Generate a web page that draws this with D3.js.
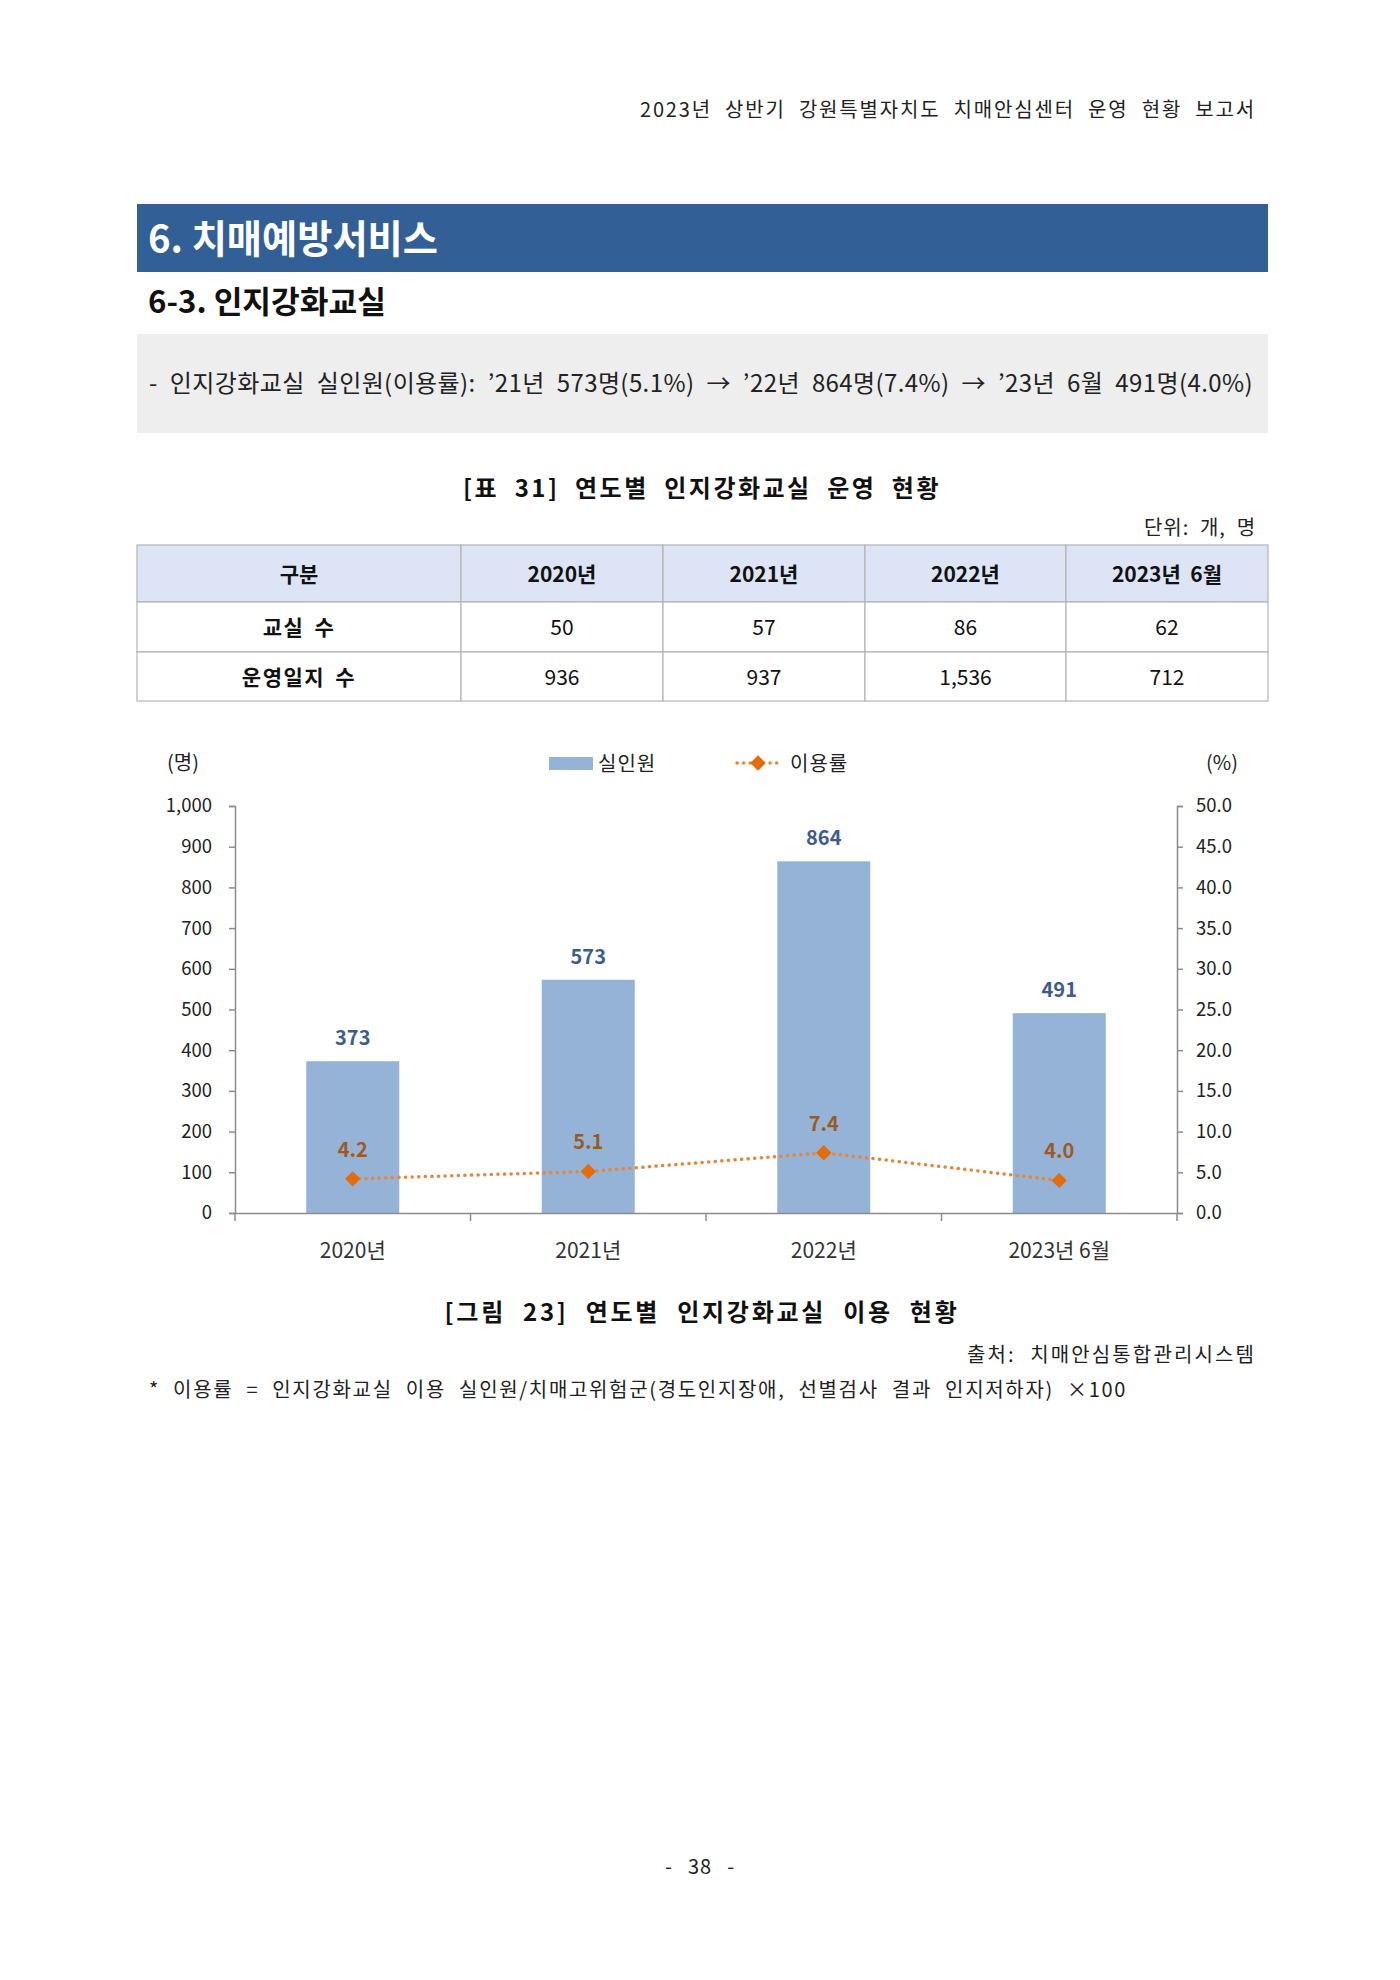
<!DOCTYPE html>
<html>
<head>
<meta charset="utf-8">
<script src="https://cdn.jsdelivr.net/npm/d3@7"></script>
<style>
  body { margin: 0; background: #fff; }
  text { font-family: "Noto Sans CJK KR", "Noto Sans", sans-serif; }
</style>
</head>
<body>
<div id="page"></div>
<script>
// data
const years = ["2020년", "2021년", "2022년", "2023년 6월"];
const tableYears = ["2020년", "2021년", "2022년", "2023년  6월"];
const classrooms = [50, 57, 86, 62];
const logs = [936, 937, 1536, 712];
const people = [373, 573, 864, 491];
const rates = [4.2, 5.1, 7.4, 4.0];
const leftTicks = [0, 100, 200, 300, 400, 500, 600, 700, 800, 900, 1000];
const rightTicks = [0, 5, 10, 15, 20, 25, 30, 35, 40, 45, 50];

const W = 1400, H = 1980;
const svg = d3.select("#page").append("svg")
    .attr("width", W)
    .attr("height", H);

// widen a line to the width it has on the page: part of the extra goes
// between letters, the rest between words
function fitWords(t, width, share) {
  const node = t.node();
  const str = t.text();
  const len = node.getComputedTextLength();
  const gaps = (str.match(/ /g) || []).length;
  const extra = width - len;
  if (extra <= 0) return t;
  if (share === undefined) share = 0.5;
  if (gaps === 0) share = 1;
  t.style("letter-spacing", (extra * share / str.length) + "px");
  if (gaps > 0) t.style("word-spacing", (extra * (1 - share) / gaps) + "px");
  return t;
}

// page header
fitWords(svg.append("text")
  .attr("x", 1256).attr("y", 117)
  .attr("text-anchor", "end")
  .style("font-size", "20px").style("fill", "#222")
  .text("2023년 상반기 강원특별자치도 치매안심센터 운영 현황 보고서"), 616, 0.6);

// section title bar
svg.append("rect")
  .attr("x", 137).attr("y", 204).attr("width", 1131).attr("height", 68)
  .attr("fill", "#325f96");
svg.append("text")
  .attr("x", 148).attr("y", 253)
  .style("font-size", "39px").style("font-weight", "bold").style("fill", "#fff")
  .attr("textLength", 290).attr("lengthAdjust", "spacingAndGlyphs")
  .text("6. 치매예방서비스");

svg.append("text")
  .attr("x", 148).attr("y", 313)
  .style("font-size", "31px").style("font-weight", "bold").style("fill", "#111")
  .attr("textLength", 238).attr("lengthAdjust", "spacingAndGlyphs")
  .text("6-3. 인지강화교실");

// summary box
svg.append("rect")
  .attr("x", 137).attr("y", 334).attr("width", 1131).attr("height", 99)
  .attr("fill", "#eeeeee");
fitWords(svg.append("text")
  .attr("x", 149).attr("y", 392)
  .style("font-size", "24px").style("fill", "#222")
  .text("- 인지강화교실 실인원(이용률): ’21년 573명(5.1%) → ’22년 864명(7.4%) → ’23년 6월 491명(4.0%)"), 1104, 0.3);

// table caption
fitWords(svg.append("text")
  .attr("x", 702).attr("y", 497)
  .attr("text-anchor", "middle")
  .style("font-size", "24px").style("font-weight", "bold").style("fill", "#111")
  .text("[표 31] 연도별 인지강화교실 운영 현황"), 478, 0.6);
fitWords(svg.append("text")
  .attr("x", 1256).attr("y", 535)
  .attr("text-anchor", "end")
  .style("font-size", "20px").style("fill", "#222")
  .text("단위: 개, 명"), 112, 0.4);

// table
const colEdges = [137, 461, 663, 865, 1066, 1268];
const rowEdges = [545, 602, 652, 701];
const tableRows = [
  {label: "구분", cells: tableYears, head: true},
  {label: "교실 수", cells: classrooms.map(d3.format(",")), head: false},
  {label: "운영일지 수", cells: logs.map(d3.format(",")), head: false}
];
const tbl = svg.append("g");
tableRows.forEach(function(row, r) {
  const y0 = rowEdges[r], y1 = rowEdges[r + 1];
  [row.label].concat(row.cells).forEach(function(c, i) {
    tbl.append("rect")
      .attr("x", colEdges[i]).attr("y", y0)
      .attr("width", colEdges[i + 1] - colEdges[i]).attr("height", y1 - y0)
      .attr("fill", row.head ? "#dce4f6" : "#fff")
      .attr("stroke", "#b4b4b4").attr("stroke-width", 1.2);
    tbl.append("text")
      .attr("x", (colEdges[i] + colEdges[i + 1]) / 2)
      .attr("y", (y0 + y1) / 2 + 8)
      .attr("text-anchor", "middle")
      .style("font-size", "21px")
      .style("font-weight", (row.head || i === 0) ? "bold" : "normal")
      .style("fill", "#111")
      .style("white-space", "pre")
      .style("letter-spacing", i === 0 && !row.head ? "1.5px" : "0px")
      .style("word-spacing", i === 0 && !row.head ? "4px" : "0px")
      .text(c);
  });
});

// ---- chart ----
const m = {left: 235, right: 1177, top: 806, bottom: 1213};

let x = d3.scaleBand()
  .domain(years)
  .range([m.left, m.right])
  .paddingInner(0.605)
  .paddingOuter(0.3025);

let y = d3.scaleLinear().domain([0, 1000]).range([m.bottom, m.top]);
let y2 = d3.scaleLinear().domain([0, 50]).range([m.bottom, m.top]);

const axisColor = "#8c8c8c";

// bars
svg.selectAll("rect.bar")
  .data(people)
  .enter()
  .append("rect")
  .attr("class", "bar")
  .attr("x", function(d, i) { return x(years[i]); })
  .attr("y", function(d) { return y(d); })
  .attr("width", x.bandwidth())
  .attr("height", function(d) { return y(0) - y(d); })
  .attr("fill", "#95b3d7");

// left axis
let yAxis = d3.axisLeft(y).tickValues(leftTicks).tickFormat(d3.format(","))
  .tickSize(6).tickPadding(17);
let gy = svg.append("g")
  .attr("transform", "translate(" + m.left + ",0)")
  .call(yAxis);

// right axis
let y2Axis = d3.axisRight(y2).tickValues(rightTicks).tickFormat(d3.format(".1f"))
  .tickSize(6).tickPadding(13);
let gy2 = svg.append("g")
  .attr("transform", "translate(" + m.right + ",0)")
  .call(y2Axis);

// bottom axis
let xAxis = d3.axisBottom(x).tickSize(0).tickPadding(30);
let gx = svg.append("g")
  .attr("transform", "translate(0," + m.bottom + ")")
  .call(xAxis);

// category dividers on the x axis
gx.selectAll("line.div")
  .data(d3.range(years.length + 1))
  .enter()
  .append("line")
  .attr("class", "div")
  .attr("x1", function(i) { return x.range()[0] + i * x.step(); })
  .attr("x2", function(i) { return x.range()[0] + i * x.step(); })
  .attr("y1", 0).attr("y2", 8)
  .attr("stroke", axisColor).attr("stroke-width", 1.5);

[gy, gy2, gx].forEach(function(g) {
  g.select(".domain").attr("stroke", axisColor).attr("stroke-width", 1.5);
  g.selectAll(".tick line").attr("stroke", axisColor).attr("stroke-width", 1.5);
  g.selectAll("text")
    .style("font-family", "'Noto Sans CJK KR', sans-serif")
    .style("font-size", "18.5px").style("fill", "#222");
});
gx.selectAll("text").style("font-size", "21px").style("fill", "#333");

// rate line
const cx = function(i) { return x(years[i]) + x.bandwidth() / 2; };
svg.append("path")
  .datum(rates)
  .attr("fill", "none")
  .attr("stroke", "#e3873a")
  .attr("stroke-width", 3.5)
  .attr("stroke-linecap", "round")
  .attr("stroke-dasharray", "0.1 6.5")
  .attr("d", d3.line()
    .x(function(d, i) { return cx(i); })
    .y(function(d) { return y2(d); }));

const diamond = d3.symbol().type(d3.symbolDiamond2).size(150);
svg.selectAll("path.mark")
  .data(rates)
  .enter()
  .append("path")
  .attr("class", "mark")
  .attr("d", diamond)
  .attr("transform", function(d, i) { return "translate(" + cx(i) + "," + y2(d) + ")"; })
  .attr("fill", "#e46c0a");

// value labels
svg.selectAll("text.pv")
  .data(people)
  .enter()
  .append("text")
  .attr("class", "pv")
  .attr("x", function(d, i) { return cx(i); })
  .attr("y", function(d) { return y(d) - 16; })
  .attr("text-anchor", "middle")
  .style("font-size", "20px").style("font-weight", "bold").style("fill", "#3b5c8c")
  .text(function(d) { return d; });

svg.selectAll("text.rv")
  .data(rates)
  .enter()
  .append("text")
  .attr("class", "rv")
  .attr("x", function(d, i) { return cx(i); })
  .attr("y", function(d) { return y2(d) - 22; })
  .attr("text-anchor", "middle")
  .style("font-size", "20px").style("font-weight", "bold").style("fill", "#9a5a22")
  .text(function(d) { return d3.format(".1f")(d); });

// unit labels
svg.append("text").attr("x", 183).attr("y", 770).attr("text-anchor", "middle")
  .style("font-size", "20px").style("fill", "#222").text("(명)");
svg.append("text").attr("x", 1222).attr("y", 770).attr("text-anchor", "middle")
  .style("font-size", "20px").style("fill", "#222").text("(%)");

// legend
const lg = svg.append("g");
lg.append("rect").attr("x", 549).attr("y", 757).attr("width", 44).attr("height", 13)
  .attr("fill", "#95b3d7");
lg.append("text").attr("x", 598).attr("y", 771)
  .style("font-size", "20px").style("fill", "#222").style("letter-spacing", "1px").text("실인원");
lg.append("line").attr("x1", 737).attr("x2", 779).attr("y1", 763).attr("y2", 763)
  .attr("stroke", "#e3873a").attr("stroke-width", 3.5)
  .attr("stroke-linecap", "round").attr("stroke-dasharray", "0.1 6.5");
lg.append("path").attr("d", diamond).attr("transform", "translate(758,763)")
  .attr("fill", "#e46c0a");
lg.append("text").attr("x", 790).attr("y", 771)
  .style("font-size", "20px").style("fill", "#222").style("letter-spacing", "1px").text("이용률");

// figure caption and notes
fitWords(svg.append("text")
  .attr("x", 702).attr("y", 1321)
  .attr("text-anchor", "middle")
  .style("font-size", "24px").style("font-weight", "bold").style("fill", "#111")
  .text("[그림 23] 연도별 인지강화교실 이용 현황"), 515, 0.6);
fitWords(svg.append("text")
  .attr("x", 1256).attr("y", 1362)
  .attr("text-anchor", "end")
  .style("font-size", "20px").style("fill", "#222")
  .text("출처: 치매안심통합관리시스템"), 289, 0.8);
fitWords(svg.append("text")
  .attr("x", 149).attr("y", 1397)
  .style("font-size", "20px").style("fill", "#222")
  .text("* 이용률 = 인지강화교실 이용 실인원/치매고위험군(경도인지장애, 선별검사 결과 인지저하자) ×100"), 978, 0.6);

// page number
fitWords(svg.append("text")
  .attr("x", 700).attr("y", 1874)
  .attr("text-anchor", "middle")
  .style("font-size", "20px").style("fill", "#222")
  .text("- 38 -"), 70, 0.2);
</script>
</body>
</html>
